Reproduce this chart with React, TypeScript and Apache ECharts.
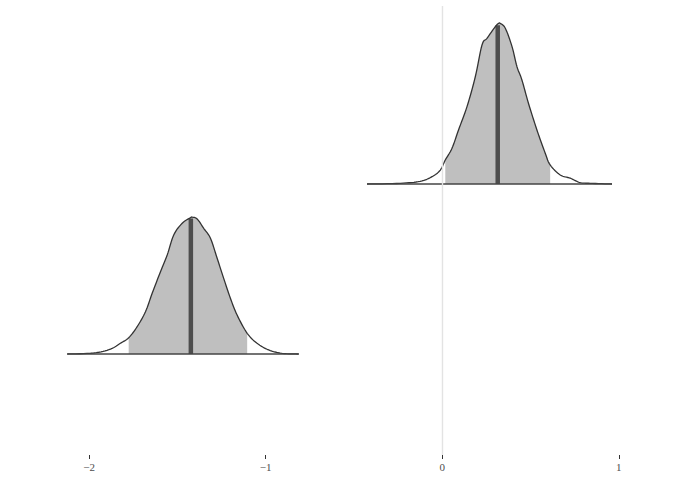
import React, { useEffect, useRef } from "react";
import * as echarts from "echarts";

// x-axis tick values
const xTicks = [-2, -1, 0, 1];

// Parameter rows (baseline positions on the discrete y scale)
const rowBase = [1, 2];

// Parameter 1 (bottom row) density curve
const dens1X = [-2.124, -1.974, -1.879, -1.823, -1.776, -1.728, -1.681, -1.643, -1.596, -1.558, -1.521, -1.473, -1.426, -1.417, -1.388, -1.351, -1.313, -1.275, -1.238, -1.2, -1.162, -1.105, -1.049, -0.983, -0.907, -0.813];
const dens1H = [0, 0.006, 0.029, 0.063, 0.096, 0.161, 0.249, 0.357, 0.484, 0.582, 0.7, 0.769, 0.802, 0.805, 0.794, 0.739, 0.681, 0.563, 0.445, 0.328, 0.229, 0.122, 0.063, 0.024, 0.004, 0];
const interval1 = [-1.776, -1.105];
const median1 = -1.424;

// Parameter 2 (top row) density curve
const dens2X = [-0.426, -0.238, -0.125, -0.058, -0.011, 0.017, 0.055, 0.092, 0.14, 0.187, 0.225, 0.253, 0.3, 0.319, 0.328, 0.357, 0.395, 0.423, 0.451, 0.488, 0.536, 0.583, 0.611, 0.668, 0.725, 0.781, 0.838, 0.961];
const dens2H = [0, 0.004, 0.016, 0.043, 0.082, 0.141, 0.21, 0.318, 0.455, 0.631, 0.818, 0.857, 0.925, 0.945, 0.945, 0.916, 0.808, 0.69, 0.612, 0.475, 0.318, 0.181, 0.112, 0.053, 0.034, 0.008, 0.004, 0];
const interval2 = [0.017, 0.611];
const median2 = 0.314;

const fmt = (v: number) => (v < 0 ? "\u2212" + Math.abs(v) : String(v));

function interp(xs: number[], hs: number[], x: number) {
  for (let i = 0; i < xs.length - 1; i++) {
    if (x >= xs[i] && x <= xs[i + 1]) {
      const t = (x - xs[i]) / (xs[i + 1] - xs[i]);
      return hs[i] + t * (hs[i + 1] - hs[i]);
    }
  }
  return 0;
}

// Catmull-Rom smoothing in pixel space (drawing only); returns segments per knot index
function smoothPts(p: number[][], steps = 8) {
  const out: { pt: number[]; k: number }[] = [];
  for (let i = 0; i < p.length - 1; i++) {
    const p0 = p[Math.max(0, i - 1)];
    const p1 = p[i];
    const p2 = p[i + 1];
    const p3 = p[Math.min(p.length - 1, i + 2)];
    for (let s = 0; s < steps; s++) {
      const t = s / steps;
      const t2 = t * t;
      const t3 = t2 * t;
      const f = (a: number, b: number, c: number, d: number) =>
        0.5 * (2 * b + (-a + c) * t + (2 * a - 5 * b + 4 * c - d) * t2 + (-a + 3 * b - 3 * c + d) * t3);
      out.push({ pt: [f(p0[0], p1[0], p2[0], p3[0]), f(p0[1], p1[1], p2[1], p3[1])], k: i + t });
    }
  }
  out.push({ pt: p[p.length - 1], k: p.length - 1 });
  return out;
}

function makeRender(xs: number[], hs: number[], base: number, iv: number[], med: number) {
  return (_params: any, api: any) => {
    const pt = (x: number, h: number) => api.coord([x, base + h]);
    const knots = xs.map((x, i) => pt(x, hs[i]));
    const sm = smoothPts(knots);
    const curve = sm.map((s) => s.pt);
    const iLo = xs.findIndex((x) => Math.abs(x - iv[0]) < 1e-9);
    const iHi = xs.findIndex((x) => Math.abs(x - iv[1]) < 1e-9);
    const inside = sm.filter((s) => s.k >= iLo - 1e-9 && s.k <= iHi + 1e-9).map((s) => s.pt);
    const shade = [pt(iv[0], 0), ...inside, pt(iv[1], 0)];
    const hMed = interp(xs, hs, med);
    const m0 = pt(med, 0);
    const m1 = pt(med, hMed);
    const b0 = pt(xs[0], 0);
    const b1 = pt(xs[xs.length - 1], 0);
    return {
      type: "group",
      children: [
        { type: "polygon", shape: { points: shade }, style: { fill: "#bfbfbf", stroke: "none" } },
        { type: "line", shape: { x1: m0[0], y1: m0[1], x2: m1[0], y2: m1[1] + 1 }, style: { stroke: "#4d4d4d", lineWidth: 4.5 } },
        { type: "polyline", shape: { points: curve }, style: { stroke: "#333333", lineWidth: 1.3, fill: "none", lineJoin: "round" } },
        { type: "line", shape: { x1: b0[0], y1: b0[1], x2: b1[0], y2: b1[1] }, style: { stroke: "#444444", lineWidth: 1.5 } },
      ],
    };
  };
}

export default function App() {
  const ref = useRef<HTMLDivElement>(null);
  useEffect(() => {
    if (!ref.current) return;
    const chart = echarts.init(ref.current, undefined, { renderer: "svg" });
    chart.setOption({
      animation: false,
      backgroundColor: "#ffffff",
      grid: { left: 45, right: 12, top: 6, bottom: 22 },
      xAxis: {
        type: "value",
        min: -2.25,
        max: 1.25,
        axisLine: { show: false },
        splitLine: { show: false },
        axisTick: { show: true, customValues: xTicks, length: 4, lineStyle: { color: "#333333", width: 1 } },
        axisLabel: {
          customValues: xTicks,
          formatter: fmt,
          fontFamily: "Liberation Serif",
          fontSize: 11,
          color: "#4d4d4d",
          margin: 6,
        },
      },
      yAxis: {
        type: "value",
        min: 0.406,
        max: 3.047,
        show: false,
        splitLine: { show: false },
      },
      series: [
        {
          type: "line",
          data: [],
          silent: true,
          markLine: {
            silent: true,
            symbol: "none",
            label: { show: false },
            lineStyle: { color: "#e3e3e3", type: "solid", width: 1.4 },
            data: [{ xAxis: 0 }],
          },
        },
        {
          type: "custom",
          clip: false,
          z: 3,
          silent: true,
          data: [[median1, rowBase[0]]],
          renderItem: makeRender(dens1X, dens1H, rowBase[0], interval1, median1),
        },
        {
          type: "custom",
          clip: false,
          z: 3,
          silent: true,
          data: [[median2, rowBase[1]]],
          renderItem: makeRender(dens2X, dens2H, rowBase[1], interval2, median2),
        },
      ],
    });
    return () => chart.dispose();
  }, []);
  return <div ref={ref} style={{ position: "absolute", left: 0, top: 0, width: 675, height: 477 }} />;
}
